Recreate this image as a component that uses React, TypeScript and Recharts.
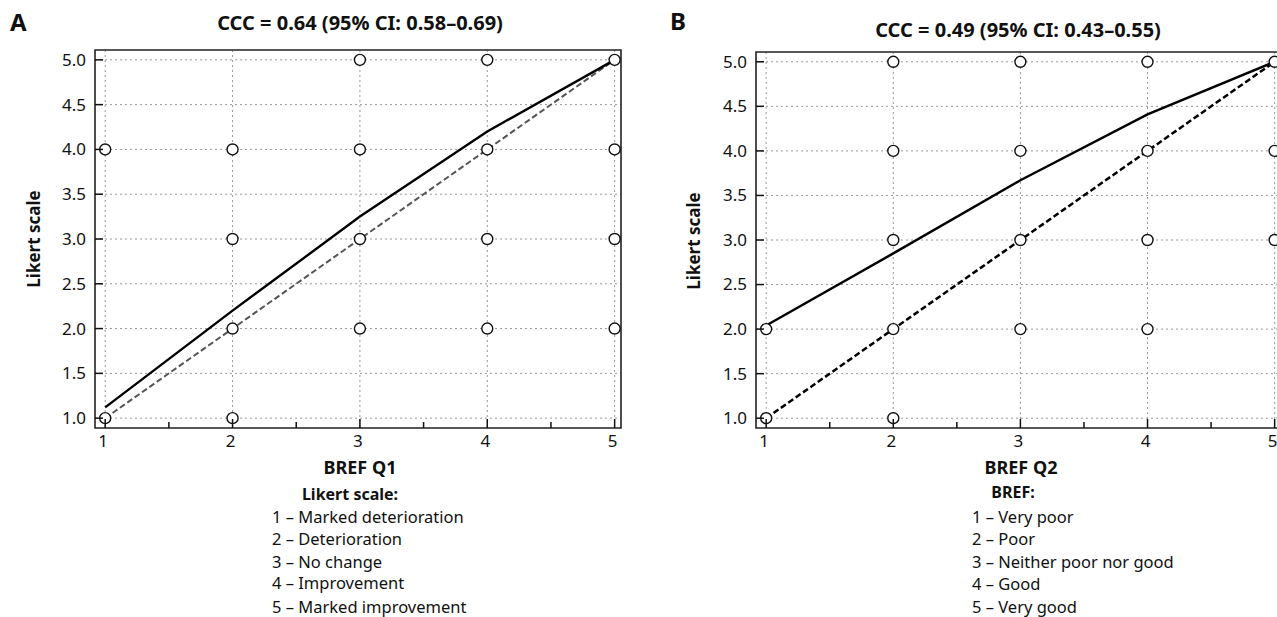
import { CartesianGrid, ReferenceArea, Scatter, ScatterChart, XAxis, YAxis } from "recharts";

const xMajor = [1, 2, 3, 4, 5];
const xTicks = [1, 1.5, 2, 2.5, 3, 3.5, 4, 4.5, 5];
const yTicks = [1, 1.5, 2, 2.5, 3, 3.5, 4, 4.5, 5];

// panel A - BREF Q1 vs Likert
const obsAx = [1, 1, 2, 2, 2, 2, 3, 3, 3, 3, 4, 4, 4, 4, 5, 5, 5, 5];
const obsAy = [4, 1, 4, 3, 2, 1, 5, 4, 3, 2, 5, 4, 3, 2, 5, 4, 3, 2];
const fitAy = [1.12, 2.2, 3.25, 4.2, 5];

// panel B - BREF Q2 vs Likert
const obsBx = [1, 1, 2, 2, 2, 2, 2, 3, 3, 3, 3, 4, 4, 4, 4, 5, 5, 5];
const obsBy = [2, 1, 5, 4, 3, 2, 1, 5, 4, 3, 2, 5, 4, 3, 2, 5, 4, 3];
const fitBy = [2.04, 2.85, 3.67, 4.41, 5];

const fitX = [1, 2, 3, 4, 5];
const identity = [1, 5];

const likertItems = ["1 – Marked deterioration", "2 – Deterioration", "3 – No change", "4 – Improvement", "5 – Marked improvement"];
const brefItems = ["1 – Very poor", "2 – Poor", "3 – Neither poor nor good", "4 – Good", "5 – Very good"];

const font = "'Noto Sans', sans-serif";

const XTick = (props: any) => {
  const { x, y, payload } = props;
  const major = Number.isInteger(payload.value);
  return (
    <g>
      <line x1={x} x2={x} y1={y} y2={y - (major ? 9 : 6)} stroke="#111" strokeWidth={1.5} />
      {major && (
        <text x={x - 2} y={y + 19} textAnchor="middle" fontSize={17} fill="#111" fontFamily={font}>
          {payload.value}
        </text>
      )}
    </g>
  );
};

const YTick = (props: any) => {
  const { x, y, payload } = props;
  return (
    <g>
      <line x1={x} x2={x + 8} y1={y} y2={y} stroke="#111" strokeWidth={1.5} />
      <text x={x - 9} y={y} dy="0.35em" textAnchor="end" fontSize={17} fill="#111" fontFamily={font}>
        {payload.value.toFixed(1)}
      </text>
    </g>
  );
};

const Dot = (props: any) => <circle cx={props.cx} cy={props.cy} r={5.5} fill="#fff" stroke="#111" strokeWidth={1.4} />;

const Txt = ({ x, y, size, bold, children, anchor = "center", rotate }: any) => (
  <div
    style={{
      position: "absolute",
      left: x,
      top: y,
      transform: `translate(${anchor === "center" ? "-50%" : "0"}, -50%)${rotate ? " rotate(-90deg)" : ""}`,
      fontSize: size,
      fontWeight: bold ? 700 : 400,
      whiteSpace: "nowrap",
      lineHeight: 1,
      color: "#111",
    }}
  >
    {children}
  </div>
);

const Panel = ({ left, marginLeft, marginRight, marginTop, obsX, obsY, fitY, idStroke, idWidth }: any) => {
  const obs = obsX.map((x: number, i: number) => ({ x, y: obsY[i] }));
  const fit = fitX.map((x, i) => ({ x, y: fitY[i] }));
  const diag = identity.map((v) => ({ x: v, y: v }));
  return (
    <div style={{ position: "absolute", left, top: 0 }}>
      <ScatterChart width={660} height={470} margin={{ top: marginTop, right: marginRight, left: marginLeft, bottom: 22 }}>
        <CartesianGrid stroke="#999" strokeDasharray="2 3" verticalValues={xMajor} horizontalValues={yTicks} />
        <XAxis type="number" dataKey="x" domain={[0.92, 5.05]} ticks={xTicks} interval={0} tickSize={0} tickMargin={0}
          axisLine={false} tickLine={false} tick={XTick} height={20} allowDataOverflow />
        <YAxis type="number" dataKey="y" domain={[0.89, 5.11]} ticks={yTicks} interval={0} tickSize={0} tickMargin={0}
          axisLine={false} tickLine={false} tick={YTick} width={60} allowDataOverflow />
        <ReferenceArea x1={0.92} x2={5.05} y1={0.89} y2={5.11} fill="none" stroke="#222" strokeWidth={1.6} />
        <Scatter data={diag} line={{ stroke: idStroke, strokeWidth: idWidth, strokeDasharray: "6 3" }} shape={() => <g />} isAnimationActive={false} />
        <Scatter data={fit} line={{ stroke: "#000", strokeWidth: 2.4 }} shape={() => <g />} isAnimationActive={false} />
        <Scatter data={obs} shape={Dot} isAnimationActive={false} />
      </ScatterChart>
    </div>
  );
};

export default function App() {
  return (
    <div style={{ position: "absolute", left: 0, top: 0, width: 1277, height: 617, overflow: "hidden", background: "#fff", fontFamily: font }}>
      <Panel left={0} marginLeft={35} marginRight={39} marginTop={50} obsX={obsAx} obsY={obsAy} fitY={fitAy} idStroke="#555" idWidth={2} />
      <Panel left={640} marginLeft={56} marginRight={19} marginTop={52} obsX={obsBx} obsY={obsBy} fitY={fitBy} idStroke="#000" idWidth={2.5} />

      <Txt x={10} y={22} size={24} bold anchor="left">A</Txt>
      <Txt x={360} y={23} size={20} bold>CCC = 0.64 (95% CI: 0.58–0.69)</Txt>
      <Txt x={33} y={239} size={17} bold rotate>Likert scale</Txt>
      <Txt x={360} y={467} size={18} bold>BREF Q1</Txt>
      <Txt x={350} y={494} size={16} bold>Likert scale:</Txt>
      {likertItems.map((t, i) => (
        <Txt key={t} x={272} y={[517, 539, 562, 583, 607][i]} size={16.5} anchor="left">{t}</Txt>
      ))}

      <Txt x={670} y={21} size={24} bold anchor="left">B</Txt>
      <Txt x={1018} y={30} size={20} bold>CCC = 0.49 (95% CI: 0.43–0.55)</Txt>
      <Txt x={693} y={241} size={17} bold rotate>Likert scale</Txt>
      <Txt x={1021} y={467} size={18} bold>BREF Q2</Txt>
      <Txt x={1013} y={492} size={16} bold>BREF:</Txt>
      {brefItems.map((t, i) => (
        <Txt key={t} x={972} y={[517, 539, 562, 584, 607][i]} size={16.5} anchor="left">{t}</Txt>
      ))}
    </div>
  );
}
